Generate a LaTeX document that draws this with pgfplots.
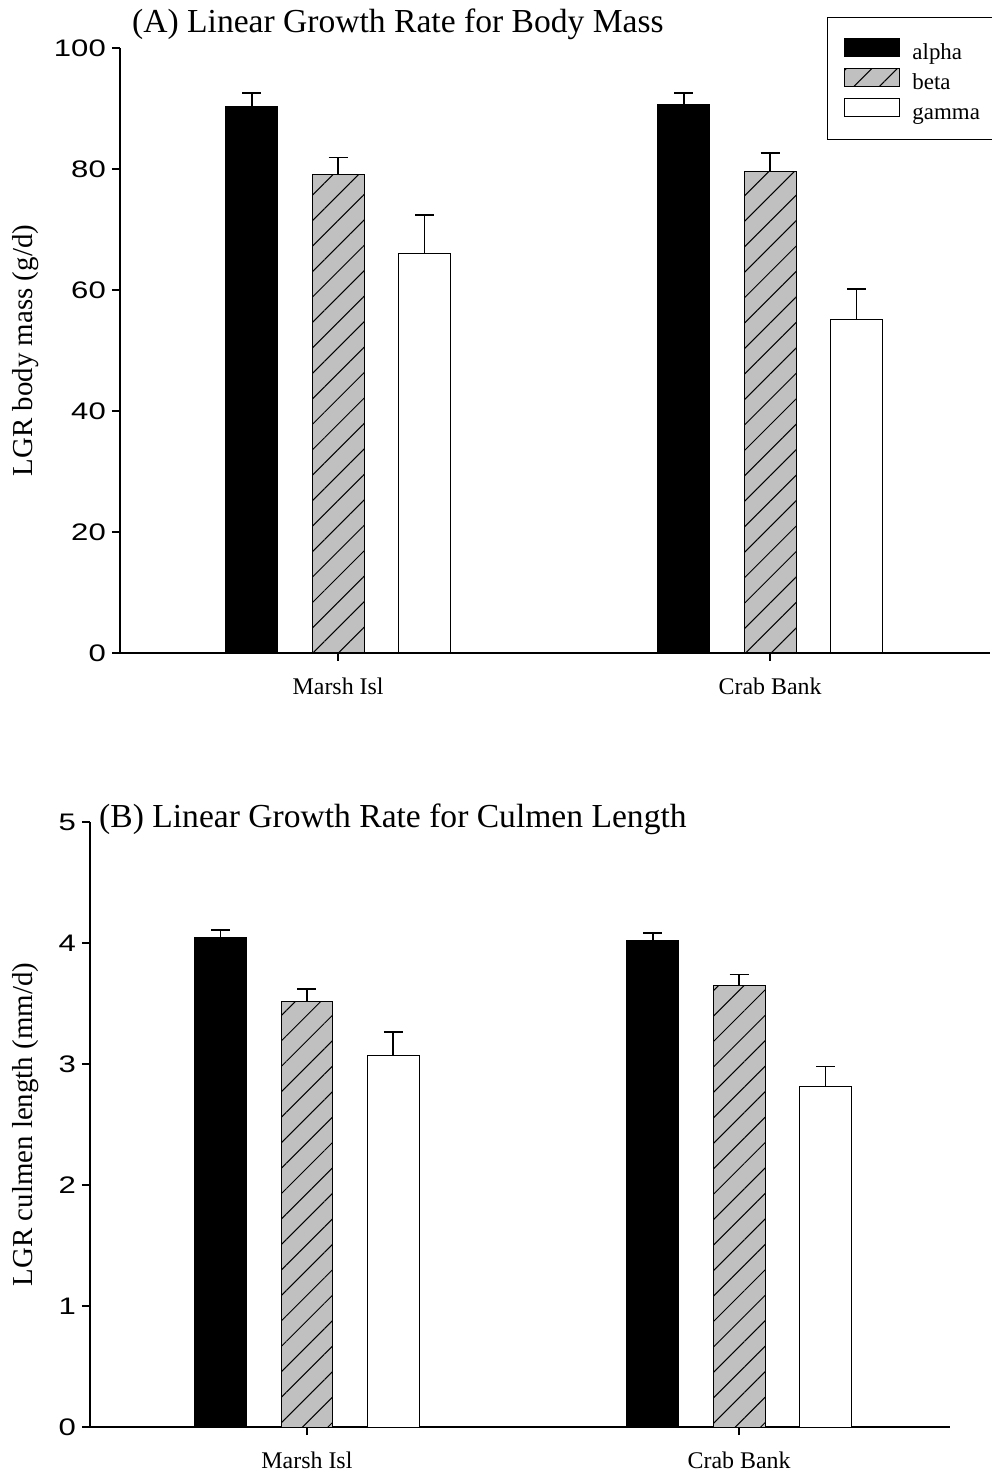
\documentclass[border=0pt]{standalone}
\usepackage{fontspec}
\setmainfont{Liberation Serif}
\newfontfamily\arialfont[FakeStretch=1.3]{Liberation Sans}
\usepackage{pgfplots}
\pgfplotsset{compat=1.18}
\usetikzlibrary{patterns.meta}
\definecolor{hatchgray}{RGB}{192,192,192}

\pgfplotsset{
  panel/.style={
    scale only axis,
    axis lines=left,
    axis line style={-, line width=1.6bp},
    tick align=outside,
    major tick length=8bp,
    tick style={line width=1.4bp, black},
    ymin=0,
    xtick={0,1},
    xticklabels={Marsh Isl, Crab Bank},
    xticklabel style={font=\fontsize{24}{24}\selectfont, yshift=-13bp},
    yticklabel style={font=\fontsize{24}{24}\selectfont\arialfont, inner xsep=6bp},
    /pgf/number format/assume math mode=true,
    every axis title/.style={font=\fontsize{33.7}{33.7}\selectfont, anchor=base west, inner sep=0pt},
    error bars/y dir=plus, error bars/y explicit,
    error bars/error bar style={line width=1.8bp, black},
    error bars/error mark options={rotate=90, mark size=9.5bp, line width=1.8bp, black},
  },
  bars/.style={ybar, bar width=0.12, bar shift=0pt, line width=1bp, draw=black},
  alphastyle/.style={bars, fill=black},
  betastyle/.style={bars, fill=hatchgray, postaction={pattern={Lines[angle=45,distance=18bp,line width=1bp]}, pattern color=black}},
  gammastyle/.style={bars, fill=white},
}

\begin{document}
\begin{tikzpicture}
\path[use as bounding box] (0,0) rectangle (992bp,1475bp);

% ---------------- Panel A ----------------
\begin{axis}[panel,
  at={(120bp,822bp)}, anchor=south west,
  width=870bp, height=605bp,
  xmin=-0.505, xmax=1.509, ymax=100,
  ytick={0,20,40,60,80,100},
  ylabel={LGR body mass (g/d)},
  every axis y label/.style={at={(rel axis cs:-0.1,0.5)}, rotate=90, anchor=base, font=\fontsize{29}{29}\selectfont},
  title={(A) Linear Growth Rate for Body Mass},
  title style={at={(rel axis cs:0.0138,1.0248)}},
  legend style={at={(rel axis cs:0.8126,1.0512)}, anchor=north west,
    draw=black, line width=1bp, inner xsep=17bp, inner ysep=20bp,
    row sep=8bp,
    font=\fontsize{23}{23}\selectfont,
    nodes={text height=17bp, text depth=0bp, inner xsep=12bp, inner ysep=0bp}},
  legend cell align=left,
  legend image code/.code={\draw[#1] (0bp,-5bp) rectangle (55bp,13bp);},
]
\addplot[alphastyle] coordinates {(-0.2,90.4) +- (0,2.2) (0.8,90.7) +- (0,1.9)};
\addplot[betastyle] coordinates {(0,79.1) +- (0,2.8) (1,79.6) +- (0,3.1)};
\addplot[gammastyle] coordinates {(0.2,66.1) +- (0,6.3) (1.2,55.2) +- (0,5.0)};
\legend{alpha, beta, gamma}
\end{axis}

% ---------------- Panel B ----------------
\begin{axis}[panel,
  at={(90bp,48bp)}, anchor=south west,
  width=860bp, height=605bp,
  xmin=-0.502, xmax=1.488, ymax=5,
  ytick={0,1,2,3,4,5},
  ylabel={LGR culmen length (mm/d)},
  every axis y label/.style={at={(rel axis cs:-0.0663,0.5)}, rotate=90, anchor=base, font=\fontsize{29}{29}\selectfont},
  title={(B) Linear Growth Rate for Culmen Length},
  title style={at={(rel axis cs:0.0105,0.9917)}},
]
\addplot[alphastyle] coordinates {(-0.2,4.047) +- (0,0.058) (0.8,4.02) +- (0,0.06)};
\addplot[betastyle] coordinates {(0,3.52) +- (0,0.10) (1,3.65) +- (0,0.09)};
\addplot[gammastyle] coordinates {(0.2,3.074) +- (0,0.19) (1.2,2.81) +- (0,0.17)};
\end{axis}
\end{tikzpicture}
\end{document}
